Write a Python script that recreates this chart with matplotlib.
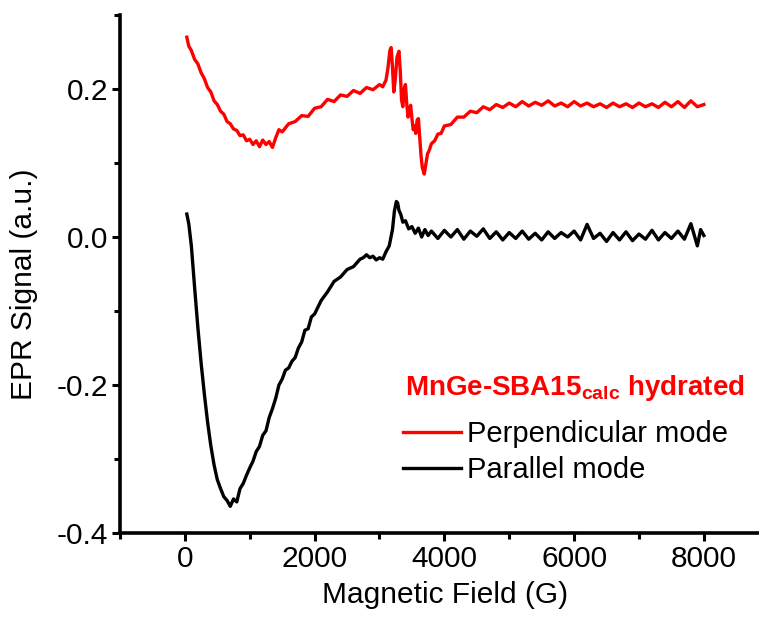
"""EPR spectra of MnGe-SBA15calc (hydrated), perpendicular vs parallel mode."""

import matplotlib

matplotlib.use("Agg")
import matplotlib.pyplot as plt  # noqa: E402
from matplotlib.ticker import MultipleLocator  # noqa: E402

# perpendicular mode (red)
perp_field = [30, 60, 100, 150, 200, 250, 300, 350, 400, 450, 500, 550, 600, 650,
              700, 750, 800, 850, 900, 950, 1000, 1050, 1100, 1150, 1200, 1250,
              1300, 1350, 1400, 1450, 1500, 1600, 1700, 1800, 1900, 2000, 2100,
              2200, 2300, 2400, 2500, 2600, 2700, 2800, 2900, 3000, 3050, 3100,
              3130, 3160, 3180, 3200, 3220, 3240, 3270, 3300, 3320, 3340, 3360,
              3380, 3400, 3420, 3440, 3460, 3480, 3500, 3520, 3540, 3560, 3580,
              3600, 3620, 3640, 3660, 3690, 3710, 3740, 3770, 3800, 3850, 3900,
              3950, 4000, 4100, 4200, 4300, 4400, 4500, 4600, 4700, 4800, 4900,
              5000, 5100, 5200, 5300, 5400, 5500, 5600, 5700, 5800, 5900, 6000,
              6100, 6200, 6300, 6400, 6500, 6600, 6700, 6800, 6900, 7000, 7100,
              7200, 7300, 7400, 7500, 7600, 7700, 7800, 7900, 8000]
perp_signal = [0.270, 0.258, 0.252, 0.240, 0.234, 0.222, 0.214, 0.202, 0.196, 0.184,
               0.179, 0.170, 0.166, 0.156, 0.153, 0.146, 0.144, 0.137, 0.138, 0.130,
               0.132, 0.125, 0.130, 0.122, 0.131, 0.125, 0.129, 0.121, 0.134, 0.145,
               0.142, 0.153, 0.156, 0.164, 0.163, 0.174, 0.176, 0.186, 0.183, 0.192,
               0.190, 0.198, 0.194, 0.202, 0.199, 0.206, 0.203, 0.212, 0.228, 0.252,
               0.256, 0.230, 0.196, 0.210, 0.243, 0.251, 0.225, 0.185, 0.176, 0.200,
               0.206, 0.180, 0.162, 0.170, 0.178, 0.160, 0.145, 0.150, 0.140, 0.158,
               0.160, 0.135, 0.110, 0.094, 0.085, 0.096, 0.112, 0.118, 0.126, 0.130,
               0.139, 0.140, 0.150, 0.152, 0.162, 0.162, 0.170, 0.168, 0.176, 0.172,
               0.179, 0.175, 0.181, 0.176, 0.183, 0.177, 0.182, 0.178, 0.184, 0.177,
               0.181, 0.176, 0.183, 0.177, 0.181, 0.176, 0.180, 0.175, 0.181, 0.176,
               0.180, 0.175, 0.181, 0.176, 0.180, 0.175, 0.182, 0.176, 0.183, 0.175,
               0.184, 0.176, 0.179]

# parallel mode (black)
para_field = [30, 60, 100, 150, 200, 250, 300, 350, 400, 450, 500, 550, 600, 650,
              700, 750, 800, 850, 900, 950, 1000, 1050, 1100, 1150, 1200, 1250,
              1300, 1350, 1400, 1450, 1500, 1550, 1600, 1650, 1700, 1750, 1800,
              1850, 1900, 1950, 2000, 2100, 2200, 2300, 2400, 2500, 2600, 2700,
              2750, 2800, 2850, 2900, 2950, 3000, 3050, 3100, 3150, 3200, 3230,
              3260, 3280, 3300, 3330, 3360, 3400, 3450, 3500, 3550, 3600, 3650,
              3700, 3750, 3800, 3900, 4000, 4100, 4200, 4300, 4400, 4500, 4600,
              4700, 4800, 4900, 5000, 5100, 5200, 5300, 5400, 5500, 5600, 5700,
              5800, 5900, 6000, 6100, 6200, 6300, 6400, 6500, 6600, 6700, 6800,
              6900, 7000, 7100, 7200, 7300, 7400, 7500, 7600, 7700, 7800, 7900,
              7950, 8000]
para_signal = [0.031, 0.018, -0.012, -0.068, -0.122, -0.170, -0.212, -0.250, -0.282,
               -0.308, -0.328, -0.340, -0.351, -0.356, -0.364, -0.354, -0.358, -0.340,
               -0.333, -0.322, -0.312, -0.303, -0.290, -0.283, -0.268, -0.262, -0.244,
               -0.232, -0.218, -0.200, -0.192, -0.180, -0.177, -0.168, -0.163, -0.150,
               -0.142, -0.126, -0.124, -0.108, -0.104, -0.086, -0.074, -0.060, -0.054,
               -0.044, -0.040, -0.030, -0.028, -0.024, -0.028, -0.026, -0.031, -0.028,
               -0.030, -0.020, -0.012, 0.010, 0.035, 0.048, 0.046, 0.036, 0.030, 0.020,
               0.022, 0.011, 0.014, 0.005, 0.012, 0.000, 0.010, 0.002, 0.008, -0.002,
               0.009, 0.000, 0.010, -0.003, 0.008, 0.001, 0.011, -0.002, 0.007, -0.004,
               0.006, -0.002, 0.008, -0.003, 0.005, -0.004, 0.007, -0.002, 0.006, 0.000,
               0.008, -0.004, 0.017, -0.002, 0.005, -0.006, 0.006, -0.004, 0.007, -0.005,
               0.004, -0.003, 0.009, -0.004, 0.006, -0.002, 0.008, -0.003, 0.018, -0.012,
               0.010, 0.002]

x_ticks = [0, 2000, 4000, 6000, 8000]
y_ticks = [-0.4, -0.2, 0.0, 0.2]

plt.rcParams["font.family"] = ["Liberation Sans", "DejaVu Sans"]
plt.rcParams["mathtext.fontset"] = "custom"
plt.rcParams["mathtext.bf"] = "Liberation Sans:bold"
plt.rcParams["mathtext.default"] = "bf"

fig = plt.figure(figsize=(7.59, 6.22), dpi=100)
ax = fig.add_axes([0.1581, 0.1431, 0.8419, 0.8328])

ax.plot(perp_field, perp_signal, "-", c="#ff0000", lw=2.4, label="Perpendicular mode")
ax.plot(para_field, para_signal, "-", c="black", lw=2.4, label="Parallel mode")

ax.set_xlim(-1000, 8850)
ax.set_ylim(-0.4, 0.3)
ax.set_xticks(x_ticks)
ax.set_yticks(y_ticks)
ax.set_yticklabels([f"{v:.1f}" for v in y_ticks])
ax.xaxis.set_minor_locator(MultipleLocator(1000))
ax.yaxis.set_minor_locator(MultipleLocator(0.1))

for side in ("top", "right"):
    ax.spines[side].set_visible(False)
for side in ("left", "bottom"):
    ax.spines[side].set_linewidth(2.6)
ax.tick_params(which="major", direction="out", length=5.5, width=2.2, labelsize=21.5, pad=3)
ax.tick_params(which="minor", direction="out", length=4, width=2.2)

ax.set_xlabel("Magnetic Field (G)", fontsize=21.5)
ax.set_ylabel("EPR Signal (a.u.)", fontsize=21.5)
ax.xaxis.set_label_coords(0.509, -0.092)
ax.yaxis.set_label_coords(-0.128, 0.48)

# legend title drawn as its own text so its gap to the entries can be set
fig.text(405 / 759, 1 - 395 / 622, r"MnGe-SBA15$_{calc}$ hydrated",
         color="#ff0000", fontsize=20, fontweight="bold", ha="left", va="baseline")

ax.legend(
    loc="upper left",
    bbox_to_anchor=(403 / 759, 1 - 420 / 622),
    bbox_transform=fig.transFigure,
    frameon=False,
    fontsize=21,
    handlelength=2.0,
    handletextpad=0.2,
    labelspacing=0.28,
    borderpad=0,
    borderaxespad=0,
)

fig.savefig("out.png", dpi=100)
plt.close(fig)
